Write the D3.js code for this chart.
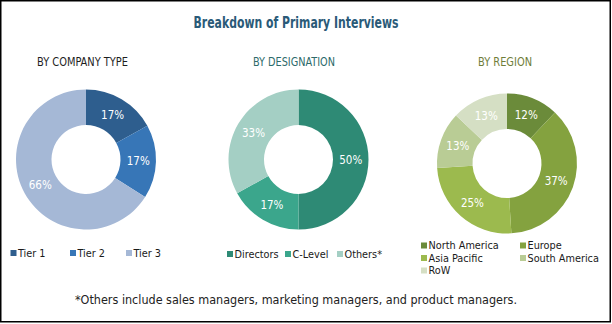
<!DOCTYPE html>
<html>
<head>
<meta charset="utf-8">
<script src="https://cdn.jsdelivr.net/npm/d3@7"></script>
<style>
  html, body { margin: 0; padding: 0; background: #fff; }
  svg { display: block; }
  .cond { font-family: "Liberation Sans Narrow", "DejaVu Sans Condensed", "Roboto", sans-serif; font-stretch: condensed; }
</style>
</head>
<body>
<svg id="chart" width="612" height="324"></svg>
<script>
const title = "Breakdown of Primary Interviews";
const footnote = "*Others include sales managers, marketing managers, and product managers.";

const companyCategories = ["Tier 1", "Tier 2", "Tier 3"];
const companyValues = [17, 17, 66];
const companyColors = ["#2e5e8e", "#3776b7", "#a5b8d6"];

const designationCategories = ["Directors", "C-Level", "Others*"];
const designationValues = [50, 17, 33];
const designationColors = ["#2e8a75", "#3ba68c", "#a4cfc4"];

const regionCategories = ["North America", "Europe", "Asia Pacific", "South America", "RoW"];
const regionValues = [12, 37, 25, 13, 13];
const regionColors = ["#6b8b3a", "#84a23f", "#9cba4e", "#b9cc95", "#d5dfc4"];

const svg = d3.select("#chart");
const W = 612, H = 324;

// frame
svg.append("rect").attr("x", 0.75).attr("y", 0.75).attr("width", W - 2.5).attr("height", H - 3)
  .attr("fill", "#fff").attr("stroke", "#000").attr("stroke-width", 1.5);

svg.append("text").attr("x", 296).attr("y", 28).attr("text-anchor", "middle")
  .attr("class", "cond").attr("font-size", 15.5).attr("font-weight", "bold")
  .attr("fill", "#2a5a78").attr("textLength", 205).attr("lengthAdjust", "spacingAndGlyphs")
  .text(title);

const panels = [
  { title: "BY COMPANY TYPE", tx: 37, tw: 91, tcolor: "#1e1e1e", cx: 86, cy: 159.5,
    cats: companyCategories, vals: companyValues, cols: companyColors,
    legend: companyCategories.map((c, i) => ({ x: [10.5, 70, 126][i], y: 253 })) },
  { title: "BY DESIGNATION", tx: 253, tw: 82, tcolor: "#2d6a6a", cx: 298.5, cy: 159.5,
    cats: designationCategories, vals: designationValues, cols: designationColors,
    legend: designationCategories.map((c, i) => ({ x: [227, 285, 337][i], y: 254 })) },
  { title: "BY REGION", tx: 478, tw: 54, tcolor: "#6f7d3a", cx: 507, cy: 163.5,
    cats: regionCategories, vals: regionValues, cols: regionColors,
    legend: regionCategories.map((c, i) => ({ x: [421, 520, 421, 520, 421][i], y: [245.5, 245.5, 258, 258, 270.5][i] })) }
];

const pie = d3.pie().sort(null).value(d => d);
const arc = d3.arc().innerRadius(34.5).outerRadius(70);

panels.forEach(p => {
  svg.append("text").attr("x", p.tx).attr("y", 66).attr("class", "cond")
    .attr("font-size", 11.5).attr("fill", p.tcolor)
    .attr("textLength", p.tw).attr("lengthAdjust", "spacingAndGlyphs")
    .text(p.title);

  const g = svg.append("g").attr("transform", `translate(${p.cx},${p.cy})`);
  const arcs = pie(p.vals);
  g.selectAll("path").data(arcs).join("path")
    .attr("d", arc).attr("fill", (d, i) => p.cols[i]);
  g.selectAll("text").data(arcs).join("text")
    .attr("transform", d => `translate(${arc.centroid(d)})`)
    .attr("text-anchor", "middle").attr("dy", "0.35em")
    .attr("class", "cond").attr("font-size", 11.5).attr("fill", "#fff")
    .text(d => d.data + "%");

  const lg = svg.append("g");
  p.cats.forEach((c, i) => {
    const L = p.legend[i];
    lg.append("rect").attr("x", L.x).attr("y", L.y - 3).attr("width", 6).attr("height", 6)
      .attr("fill", p.cols[i]);
    lg.append("text").attr("x", L.x + 7.5).attr("y", L.y).attr("dy", "0.35em")
      .attr("class", "cond").attr("font-size", 10.8).attr("fill", "#1a1a1a")
      .text(c);
  });
});

svg.append("text").attr("x", 296).attr("y", 304).attr("text-anchor", "middle")
  .attr("font-family", "'DejaVu Sans Condensed', 'Liberation Sans Narrow', sans-serif")
  .attr("font-stretch", "condensed")
  .attr("font-size", 12).attr("fill", "#222")
  .attr("textLength", 442).attr("lengthAdjust", "spacingAndGlyphs")
  .text(footnote);
</script>
</body>
</html>
